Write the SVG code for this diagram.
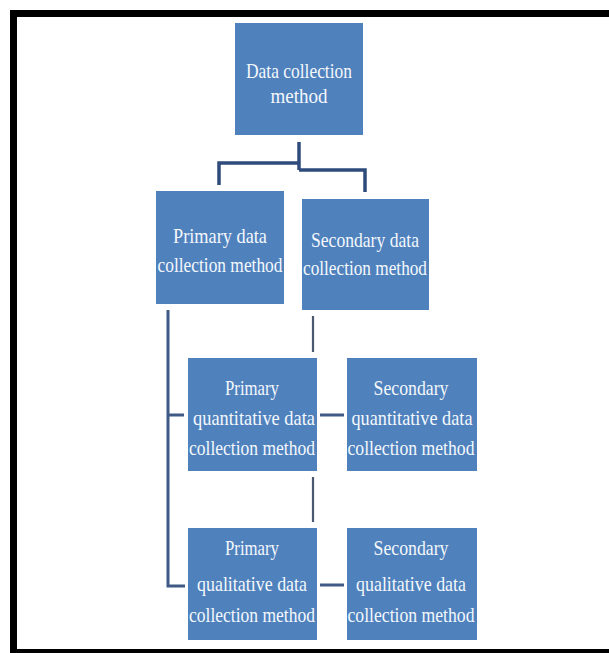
<svg xmlns="http://www.w3.org/2000/svg" width="609" height="653" viewBox="0 0 609 653">
<style>
.box{fill:#4F81BD;}
.t{font-family:"Liberation Serif","DejaVu Serif",serif;font-size:21px;fill:#F4F8FC;text-anchor:middle;}
.c{fill:none;stroke:#2F4B7C;stroke-width:3.5;stroke-linejoin:miter;}
.c2{fill:none;stroke:#3E5A85;stroke-width:3;}
.c3{fill:none;stroke:#4A5870;stroke-width:2.2;}
</style>
<rect x="0" y="0" width="609" height="653" fill="#FFFFFF"/>
<rect x="13.5" y="13.5" width="620" height="639" fill="#FFFFFF" stroke="#000000" stroke-width="7"/>
<g id="connectors">
<path class="c" d="M299 142 V170"/>
<path class="c" d="M219 185 V163 H299"/>
<path class="c" d="M299 170 H365 V192"/>
<path class="c2" d="M168 310 V586 H185"/>
<path class="c2" d="M168 415 H184"/>
<path class="c2" d="M320 415 H344"/>
<path class="c2" d="M320 585 H344"/>
<path class="c3" d="M313 316 V352"/>
<path class="c3" d="M313 477 V522"/>
</g>
<g id="n-root">
<rect class="box" x="235" y="23" width="128" height="112"/>
<text class="t" x="299" y="78" textLength="106" lengthAdjust="spacingAndGlyphs">Data collection</text>
<text class="t" x="299" y="103" textLength="57" lengthAdjust="spacingAndGlyphs">method</text>
</g>
<g id="n-primary">
<rect class="box" x="156" y="191" width="128" height="113"/>
<text class="t" x="220" y="243" textLength="94" lengthAdjust="spacingAndGlyphs">Primary data</text>
<text class="t" x="220" y="272" textLength="125" lengthAdjust="spacingAndGlyphs">collection method</text>
</g>
<g id="n-secondary">
<rect class="box" x="302" y="199" width="127" height="111"/>
<text class="t" x="365" y="247" textLength="108" lengthAdjust="spacingAndGlyphs">Secondary data</text>
<text class="t" x="365" y="275" textLength="124" lengthAdjust="spacingAndGlyphs">collection method</text>
</g>
<g id="n-pquant">
<rect class="box" x="188" y="358" width="129" height="113"/>
<text class="t" x="252" y="395" textLength="54" lengthAdjust="spacingAndGlyphs">Primary</text>
<text class="t" x="254" y="425" textLength="122" lengthAdjust="spacingAndGlyphs">quantitative data</text>
<text class="t" x="252" y="455" textLength="126" lengthAdjust="spacingAndGlyphs">collection method</text>
</g>
<g id="n-squant">
<rect class="box" x="347" y="358" width="130" height="113"/>
<text class="t" x="411" y="395" textLength="75" lengthAdjust="spacingAndGlyphs">Secondary</text>
<text class="t" x="412" y="425" textLength="121" lengthAdjust="spacingAndGlyphs">quantitative data</text>
<text class="t" x="411" y="455" textLength="127" lengthAdjust="spacingAndGlyphs">collection method</text>
</g>
<g id="n-pqual">
<rect class="box" x="188" y="528" width="129" height="112"/>
<text class="t" x="252" y="555" textLength="54" lengthAdjust="spacingAndGlyphs">Primary</text>
<text class="t" x="252" y="591" textLength="110" lengthAdjust="spacingAndGlyphs">qualitative data</text>
<text class="t" x="252" y="622" textLength="126" lengthAdjust="spacingAndGlyphs">collection method</text>
</g>
<g id="n-squal">
<rect class="box" x="347" y="528" width="130" height="112"/>
<text class="t" x="411" y="555" textLength="75" lengthAdjust="spacingAndGlyphs">Secondary</text>
<text class="t" x="411" y="591" textLength="110" lengthAdjust="spacingAndGlyphs">qualitative data</text>
<text class="t" x="411" y="622" textLength="127" lengthAdjust="spacingAndGlyphs">collection method</text>
</g>
</svg>
